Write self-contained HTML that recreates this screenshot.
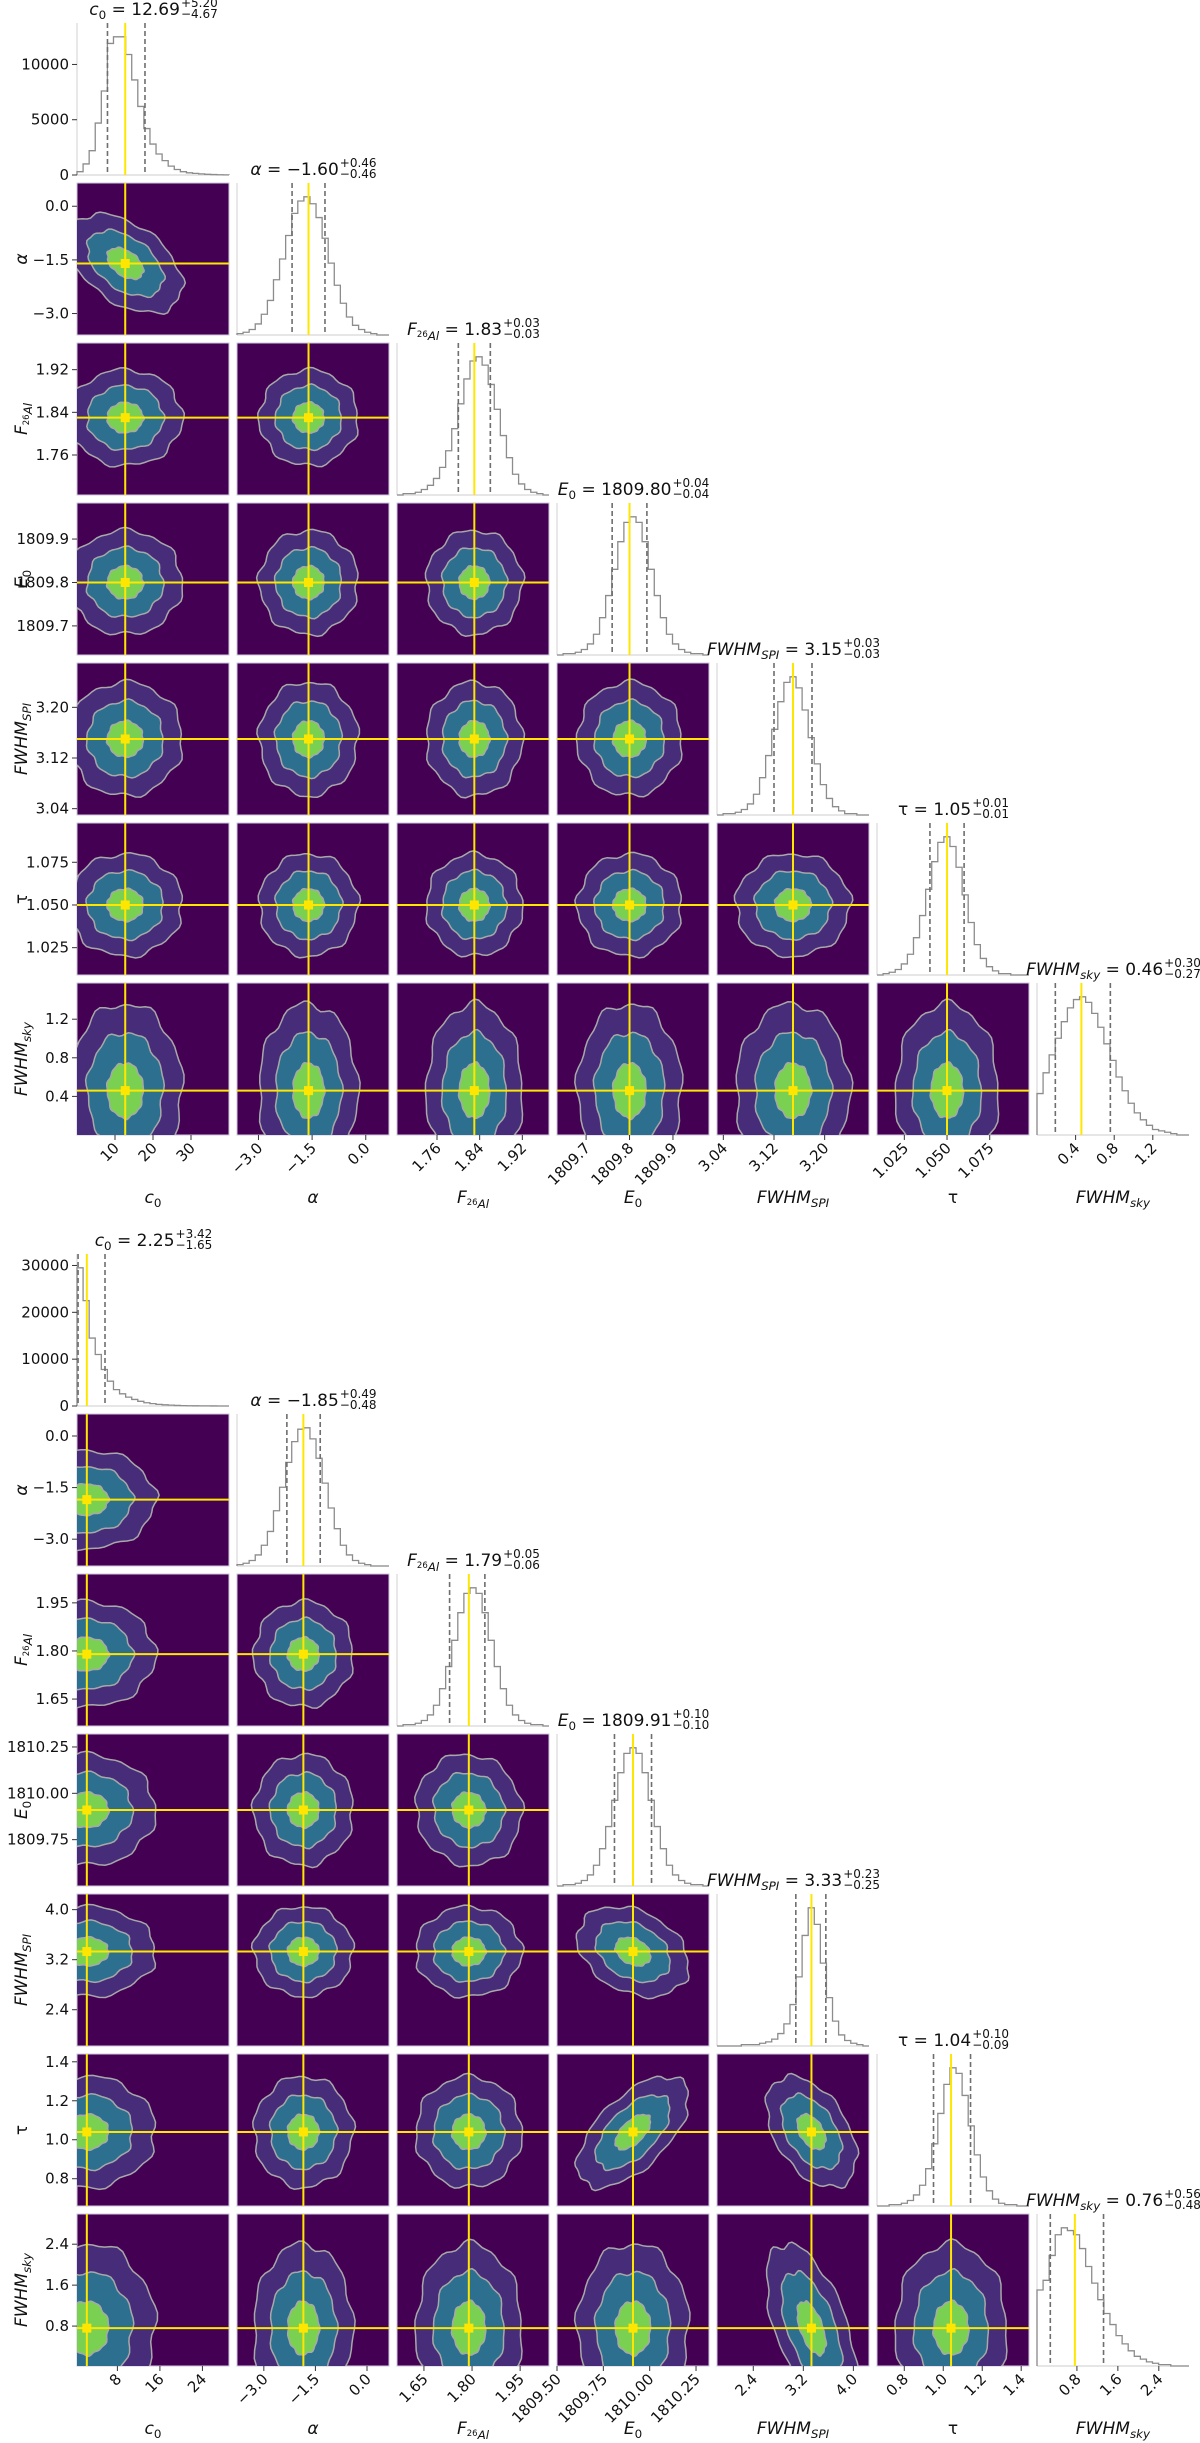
<!DOCTYPE html>
<html><head><meta charset="utf-8">
<style>
html,body{margin:0;padding:0;background:#fff;}
svg{display:block;font-family:"DejaVu Sans","Liberation Sans",sans-serif;}
</style></head>
<body>
<svg id="chart" width="1200" height="2443" viewBox="0 0 1200 2443" xmlns="http://www.w3.org/2000/svg">
<defs id="defs"></defs>
</svg>
<script>
// ---------------- DATA ----------------
const paramNames = ['c0','alpha','F26Al','E0','FWHM_SPI','tau','FWHM_sky'];

// Top corner plot
const topMedian = [12.69, -1.60, 1.83, 1809.80, 3.15, 1.05, 0.46];
const topErrHi  = ['5.20','0.46','0.03','0.04','0.03','0.01','0.30'];
const topErrLo  = ['4.67','0.46','0.03','0.04','0.03','0.01','0.27'];
const topMedLabel = ['12.69','\u22121.60','1.83','1809.80','3.15','1.05','0.46'];
const topMin = [0, -3.6, 1.685, 1809.633, 3.03, 1.009, 0.0];
const topMax = [40, 0.65, 1.97, 1809.983, 3.27, 1.098, 1.575];
const topTicks = [[10,20,30],[-3.0,-1.5,0.0],[1.76,1.84,1.92],[1809.7,1809.8,1809.9],[3.04,3.12,3.20],[1.025,1.050,1.075],[0.4,0.8,1.2]];
const topTickLabels = [['10','20','30'],['\u22123.0','\u22121.5','0.0'],['1.76','1.84','1.92'],['1809.7','1809.8','1809.9'],['3.04','3.12','3.20'],['1.025','1.050','1.075'],['0.4','0.8','1.2']];
const topCountTicks = [0, 5000, 10000];
const topCountLabels = ['0','5000','10000'];
const topSpread = [5.0, 0.46, 0.03, 0.04, 0.03, 0.01, 0.30];
const topRho = [[],[-0.45],[0,0],[0,0,0],[0,0,0,0],[0,0,0,0,0],[0,0,0,0,0,0]];
const topHist = [
 [300,1000,2200,4700,7600,11900,12500,12500,10900,8600,6200,4200,2800,1900,1300,800,500,300,200,150,100,60,40,20,10],
 [1,2,4,8,15,25,40,55,72,88,97,100,95,85,70,52,36,23,13,7,4,2,1,0,0],
 [0,1,1,2,4,7,12,20,32,48,66,84,97,100,94,80,62,43,27,15,8,4,2,1,0],
 [0,1,1,2,4,8,15,27,43,62,82,96,100,96,82,62,43,27,15,8,4,2,1,1,0],
 [0,1,1,2,4,8,15,27,43,62,82,96,100,92,76,56,37,22,12,6,3,1,1,0,0],
 [0,1,2,4,8,15,27,43,62,82,96,100,93,78,58,38,22,12,6,3,1,1,0,0,0],
 [30,45,58,70,82,92,98,100,96,88,78,66,54,42,32,23,16,11,7,4,3,2,1,0,0]
];

// Bottom corner plot
const botMedian = [2.25, -1.85, 1.79, 1809.91, 3.33, 1.04, 0.76];
const botErrHi  = ['3.42','0.49','0.05','0.10','0.23','0.10','0.56'];
const botErrLo  = ['1.65','0.48','0.06','0.10','0.25','0.09','0.48'];
const botMedLabel = ['2.25','\u22121.85','1.79','1809.91','3.33','1.04','0.76'];
const botMin = [0.4, -3.78, 1.566, 1809.5, 1.82, 0.66, 0.02];
const botMax = [29, 0.64, 2.04, 1810.32, 4.25, 1.44, 2.99];
const botTicks = [[8,16,24],[-3.0,-1.5,0.0],[1.65,1.80,1.95],[1809.50,1809.75,1810.00,1810.25],[2.4,3.2,4.0],[0.8,1.0,1.2,1.4],[0.8,1.6,2.4]];
const botTickLabels = [['8','16','24'],['\u22123.0','\u22121.5','0.0'],['1.65','1.80','1.95'],['1809.50','1809.75','1810.00','1810.25'],['2.4','3.2','4.0'],['0.8','1.0','1.2','1.4'],['0.8','1.6','2.4']];
const botCountTicks = [0, 10000, 20000, 30000];
const botCountLabels = ['0','10000','20000','30000'];
const botSpread = [4.3, 0.48, 0.055, 0.10, 0.24, 0.095, 0.55];
const botRho = [[],[0],[0,0],[0,0,-0.05],[0,0,0,-0.3],[0,0,0,0.6,-0.45],[0,0,0,0,-0.55,0]];
const botHist = [
 [29500,22500,14500,11000,7800,5300,3500,2600,1900,1400,1000,700,500,350,250,180,120,80,60,40,30,20,10,5,0],
 [1,2,4,8,15,25,40,57,75,90,99,100,92,78,60,42,27,15,8,4,2,1,0,0,0],
 [0,1,1,2,4,8,15,27,43,62,82,96,100,96,82,62,43,27,15,8,4,2,1,1,0],
 [0,1,1,2,4,8,15,27,43,62,82,96,100,96,82,62,43,27,15,8,4,2,1,1,0],
 [0,0,0,0,1,1,1,2,3,5,9,16,30,50,80,100,88,60,35,18,8,4,2,1,0],
 [0,0,1,1,2,4,8,15,27,45,67,88,100,96,80,58,37,21,11,5,2,1,1,0,0],
 [55,62,80,95,100,98,95,85,72,60,48,38,30,22,16,11,7,5,3,2,1,1,0,0,0]
];

// ---------------- DRAWING ----------------
const svg = document.getElementById('chart');
const defs = document.getElementById('defs');
const NS = 'http://www.w3.org/2000/svg';
const PITCH = 160, SIZE = 152, X0 = 77;
const levelK = [3.0, 2.0, 0.95];
const levelFill = ['#472c7a', '#2c6f8e', '#7ad151'];
let clipId = 0;

function mk(tag, attrs, parent) {
  const e = document.createElementNS(NS, tag);
  for (const k in attrs) e.setAttribute(k, attrs[k]);
  (parent || svg).appendChild(e);
  return e;
}

function labelHtml(i) {
  switch (i) {
    case 0: return '<tspan font-style="italic">c</tspan><tspan font-size="70%" dy="4">0</tspan>';
    case 1: return '<tspan font-style="italic">α</tspan>';
    case 2: return '<tspan font-style="italic">F</tspan><tspan font-size="50%" dy="2">26</tspan><tspan font-size="70%" font-style="italic" dy="3">Al</tspan>';
    case 3: return '<tspan font-style="italic">E</tspan><tspan font-size="70%" dy="4">0</tspan>';
    case 4: return '<tspan font-style="italic">FWHM</tspan><tspan font-size="70%" font-style="italic" dy="4">SPI</tspan>';
    case 5: return '<tspan>τ</tspan>';
    case 6: return '<tspan font-style="italic">FWHM</tspan><tspan font-size="70%" font-style="italic" dy="4">sky</tspan>';
  }
}

function drawCorner(cfg) {
  const {y0, median, errHi, errLo, medLabel, mn, mx, ticks, tickLabels, countTicks, countLabels, spread, rho, hist, tag} = cfg;
  const g = mk('g', {});
  
  
  const n = 7;
  const xs = (j, v) => X0 + j * PITCH + (v - mn[j]) / (mx[j] - mn[j]) * SIZE;
  const ys = (i, v) => y0 + i * PITCH + SIZE - (v - mn[i]) / (mx[i] - mn[i]) * SIZE;

  for (let i = 0; i < n; i++) {
    for (let j = 0; j <= i; j++) {
      const px = X0 + j * PITCH, py = y0 + i * PITCH;
      if (i === j) {
        const hg = mk('g', {}, g);
        
        
        const data = hist[i];
        const vmax = Math.max(...data) * 1.1;
        const nb = data.length;
        const bw = SIZE / nb;
        let d = 'M' + px + ',' + (py + SIZE);
        for (let b = 0; b < nb; b++) {
          const yy = py + SIZE - data[b] / vmax * SIZE;
          d += ' L' + (px + b * bw) + ',' + yy + ' L' + (px + (b + 1) * bw) + ',' + yy;
        }
        d += ' L' + (px + SIZE) + ',' + (py + SIZE);
        mk('line', {x1: px, y1: py, x2: px, y2: py + SIZE, stroke: '#d8d8d8', 'stroke-width': 1.2}, hg);
        mk('line', {x1: px, y1: py + SIZE, x2: px + SIZE, y2: py + SIZE, stroke: '#d8d8d8', 'stroke-width': 1.2}, hg);
        const step = mk('path', {d: d, fill: 'none', stroke: '#8c8c8c', 'stroke-width': 1.3}, hg);
        
        
        const qlo = median[i] - parseFloat(errLo[i]), qhi = median[i] + parseFloat(errHi[i]);
        [qlo, qhi].forEach((q, qi) => {
          const l = mk('line', {x1: xs(i, q), y1: py, x2: xs(i, q), y2: py + SIZE, stroke: '#6e6e6e', 'stroke-width': 1.6, 'stroke-dasharray': '5,3'}, hg);
          
          
        });
        const ml = mk('line', {x1: xs(i, median[i]), y1: py, x2: xs(i, median[i]), y2: py + SIZE, stroke: '#ffe600', 'stroke-width': 2}, hg);
        
        
        const tg = mk('g', {}, g);
        
        
        const base = py - 8;
        const t = mk('text', {x: 0, y: base, 'font-size': 17, fill: '#111'}, tg);
        t.innerHTML = labelHtml(i) + '<tspan y="' + base + '"> = ' + medLabel[i] + '</tspan>';
        const tw = t.getComputedTextLength();
        const sup = mk('text', {x: 0, y: base - 8, 'font-size': 12, fill: '#111'}, tg);
        sup.textContent = '+' + errHi[i];
        const sub = mk('text', {x: 0, y: base + 3, 'font-size': 12, fill: '#111'}, tg);
        sub.textContent = '\u2212' + errLo[i];
        const sw = Math.max(sup.getComputedTextLength(), sub.getComputedTextLength());
        const sx = px + SIZE / 2 - (tw + sw) / 2;
        t.setAttribute('x', sx);
        sup.setAttribute('x', sx + tw + 1);
        sub.setAttribute('x', sx + tw + 1);
        if (i === 0) {
          for (let k = 0; k < countTicks.length; k++) {
            const yy = py + SIZE - countTicks[k] / vmax * SIZE;
            mk('line', {x1: px - 5, y1: yy, x2: px, y2: yy, stroke: '#333', 'stroke-width': 1}, hg);
            const tl = mk('text', {x: px - 8, y: yy + 5, 'font-size': 15, 'text-anchor': 'end', fill: '#111'}, hg);
            tl.textContent = countLabels[k];
            
            
          }
        }
      } else {
        const pg = mk('g', {}, g);
        
        
        const cid = 'clip' + (clipId++);
        const cp = mk('clipPath', {id: cid}, defs);
        mk('rect', {x: px, y: py, width: SIZE, height: SIZE}, cp);
        mk('rect', {x: px, y: py, width: SIZE, height: SIZE, fill: '#440154', stroke: '#cfc7dc', 'stroke-width': 1}, pg);
        const cg = mk('g', {'clip-path': 'url(#' + cid + ')'}, pg);
        const r = rho[i][j] || 0;
        for (let L = 0; L < levelK.length; L++) {
          const k = levelK[L];
          let pts = [];
          for (let s = 0; s < 72; s++) {
            const t = s / 72 * Math.PI * 2;
            const u = Math.cos(t), v = Math.sin(t);
            const wob = 1 + 0.035 * Math.sin(7 * t + i + j * 2) + 0.025 * Math.sin(13 * t + L);
            const vx = median[j] + spread[j] * k * u * wob;
            const vy = median[i] + spread[i] * k * (r * u + Math.sqrt(1 - r * r) * v) * wob;
            pts.push(xs(j, vx).toFixed(1) + ',' + ys(i, vy).toFixed(1));
          }
          const poly = mk('polygon', {points: pts.join(' '), fill: levelFill[L], stroke: '#a8a8a8', 'stroke-width': 1.5}, cg);
          
          
        }
        const cx = xs(j, median[j]), cy = ys(i, median[i]);
        mk('line', {x1: cx, y1: py, x2: cx, y2: py + SIZE, stroke: '#ffe600', 'stroke-width': 2}, cg);
        mk('line', {x1: px, y1: cy, x2: px + SIZE, y2: cy, stroke: '#ffe600', 'stroke-width': 2}, cg);
        const m = mk('rect', {x: cx - 4.5, y: cy - 4.5, width: 9, height: 9, fill: '#ffe600'}, cg);
        
        
        if (j === 0) {
          for (let k = 0; k < ticks[i].length; k++) {
            const yy = ys(i, ticks[i][k]);
            if (yy > py + SIZE - 2) continue;
            mk('line', {x1: px - 5, y1: yy, x2: px, y2: yy, stroke: '#333', 'stroke-width': 1}, pg);
            const tl = mk('text', {x: px - 8, y: yy + 5, 'font-size': 15, 'text-anchor': 'end', fill: '#111'}, pg);
            tl.textContent = tickLabels[i][k];
            
            
          }
          const yl = mk('text', {x: 0, y: 0, 'font-size': 17, 'text-anchor': 'middle', fill: '#111', transform: 'translate(27,' + (py + SIZE / 2) + ') rotate(-90)'}, pg);
          yl.innerHTML = labelHtml(i);
          
          
        }
      }
      if (i === n - 1) {
        const by = py + SIZE;
        for (let k = 0; k < ticks[j].length; k++) {
          const xx = xs(j, ticks[j][k]);
          mk('line', {x1: xx, y1: by, x2: xx, y2: by + 5, stroke: '#333', 'stroke-width': 1}, g);
          const tl = mk('text', {x: 0, y: 0, 'font-size': 15, 'text-anchor': 'end', fill: '#111', transform: 'translate(' + (xx + 5) + ',' + (by + 14) + ') rotate(-45)'}, g);
          tl.textContent = tickLabels[j][k];
          
          
        }
        const xl = mk('text', {x: X0 + j * PITCH + SIZE / 2, y: by + 68, 'font-size': 17, 'text-anchor': 'middle', fill: '#111'}, g);
        xl.innerHTML = labelHtml(j);
        
        
      }
    }
  }
}

drawCorner({y0: 23, median: topMedian, errHi: topErrHi, errLo: topErrLo, medLabel: topMedLabel, mn: topMin, mx: topMax, ticks: topTicks, tickLabels: topTickLabels, countTicks: topCountTicks, countLabels: topCountLabels, spread: topSpread, rho: topRho, hist: topHist, tag: 'top'});
drawCorner({y0: 1254, median: botMedian, errHi: botErrHi, errLo: botErrLo, medLabel: botMedLabel, mn: botMin, mx: botMax, ticks: botTicks, tickLabels: botTickLabels, countTicks: botCountTicks, countLabels: botCountLabels, spread: botSpread, rho: botRho, hist: botHist, tag: 'bottom'});
</script>
</body></html>
